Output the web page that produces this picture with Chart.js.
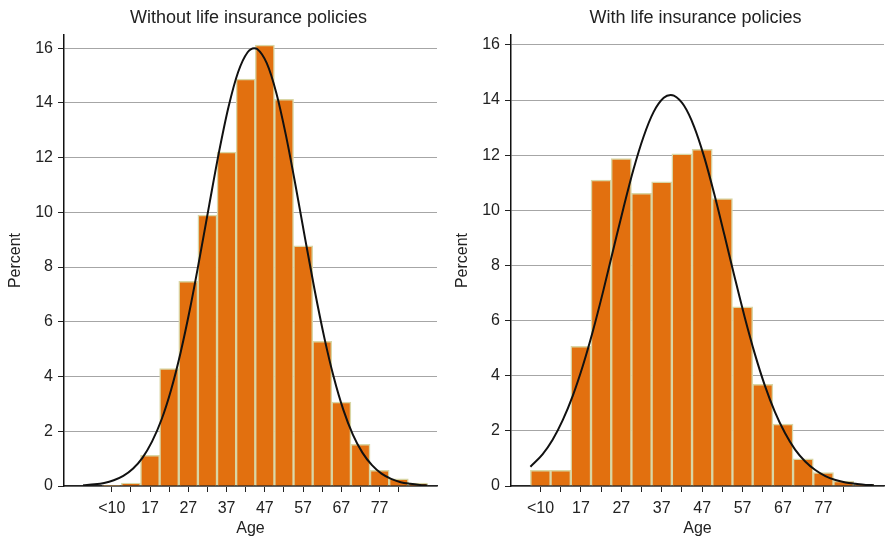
<!DOCTYPE html>
<html>
<head>
<meta charset="utf-8">
<script src="https://cdn.jsdelivr.net/npm/chart.js@4/dist/chart.umd.min.js"></script>
<style>
  body { margin: 0; background: #fff; }
  #wrap { position: relative; width: 885px; height: 542px; }
  canvas { position: absolute; top: 0; }
</style>
</head>
<body>
<div id="wrap">
  <canvas id="left" width="442" height="542" style="left:0"></canvas>
  <canvas id="right" width="438" height="542" style="left:447px"></canvas>
</div>
<script>
// age bins (centre of each 5-year bin)
var ageBins = [7, 12, 17, 22, 27, 32, 37, 42, 47, 52, 57, 62, 67, 72, 77, 82, 87];
var pctWithout = [0.02, 0.11, 1.12, 4.29, 7.48, 9.9, 12.2, 14.87, 16.11, 14.13, 8.78, 5.29, 3.07, 1.52, 0.57, 0.26, 0.11];
var pctWith = [0.57, 0.57, 5.07, 11.1, 11.88, 10.62, 11.03, 12.05, 12.21, 10.43, 6.5, 3.69, 2.25, 0.99, 0.49, 0.18, 0.06];

// normal curves
var curveAgesWithout = [-0.5, 2.5, 5, 7.5, 10, 12.5, 15, 17.5, 20, 22.5, 25, 27.5, 30, 32.5, 35, 37.5, 40, 42.5, 44.2, 45, 47.5, 50, 52.5, 55, 57.5, 60, 62.5, 65, 67.5, 70, 72.5, 75, 77.5, 80, 82.5, 85, 87.5, 89.5];
var curveWithout = [0.03, 0.06, 0.11, 0.21, 0.37, 0.63, 1.03, 1.62, 2.43, 3.52, 4.89, 6.52, 8.37, 10.3, 12.19, 13.85, 15.12, 15.85, 16.0, 15.97, 15.45, 14.36, 12.82, 11.0, 9.06, 7.17, 5.45, 3.98, 2.79, 1.88, 1.22, 0.76, 0.45, 0.26, 0.14, 0.08, 0.04, 0.02];
var curveAgesWith = [4.5, 7.5, 10, 12.5, 15, 17.5, 20, 22.5, 25, 27.5, 30, 32.5, 35, 37.5, 39.2, 40, 42.5, 45, 47.5, 50, 52.5, 55, 57.5, 60, 62.5, 65, 67.5, 70, 72.5, 75, 77.5, 80, 82.5, 85, 87.5, 89.5];
var curveWith = [0.7, 1.15, 1.68, 2.39, 3.28, 4.37, 5.64, 7.06, 8.57, 10.07, 11.48, 12.67, 13.57, 14.08, 14.18, 14.16, 13.8, 13.04, 11.94, 10.59, 9.11, 7.6, 6.14, 4.81, 3.65, 2.69, 1.92, 1.32, 0.89, 0.58, 0.36, 0.22, 0.13, 0.08, 0.04, 0.03];

var xTickValues = [7, 12, 17, 22, 27, 32, 37, 42, 47, 52, 57, 62, 67, 72, 77, 82];
var xTickLabels = ['<10', '', '17', '', '27', '', '37', '', '47', '', '57', '', '67', '', '77', ''];
var yTickValues = [0, 2, 4, 6, 8, 10, 12, 14, 16];

Chart.defaults.font.family = '"Liberation Sans", Arial, sans-serif';
Chart.defaults.color = '#222';

var panelTitle = {
  id: 'panelTitle',
  afterDraw: function(chart, args, opts) {
    var ctx = chart.ctx, a = chart.chartArea;
    ctx.save();
    ctx.font = '18px "Liberation Sans", Arial, sans-serif';
    ctx.fillStyle = '#222';
    ctx.textAlign = 'center';
    ctx.textBaseline = 'middle';
    ctx.fillText(opts.text, (a.left + a.right) / 2 - 2, 18);
    ctx.restore();
  }
};

function pairs(xs, ys) {
  return xs.map(function(x, i) { return {x: x, y: ys[i]}; });
}

function makeChart(id, title, bars, cx, cy, xmin, ymax, padRight) {
  new Chart(document.getElementById(id), {
    type: 'bar',
    plugins: [panelTitle],
    data: {
      datasets: [{
        type: 'line',
        data: pairs(cx, cy),
        borderColor: '#111',
        borderWidth: 2,
        pointRadius: 0,
        cubicInterpolationMode: 'monotone',
        fill: false,
        order: 0
      }, {
        type: 'bar',
        data: pairs(ageBins, bars),
        backgroundColor: '#e2700f',
        borderColor: '#d9d6a5',
        borderWidth: 1.5,
        barPercentage: 1,
        categoryPercentage: 1,
        order: 1
      }]
    },
    options: {
      responsive: false,
      animation: false,
      layout: { padding: { top: 35, right: padRight, left: 0, bottom: 0 } },
      plugins: {
        legend: { display: false },
        tooltip: { enabled: false },
        panelTitle: { text: title }
      },
      scales: {
        x: {
          type: 'linear',
          min: xmin,
          max: 92,
          offset: false,
          afterBuildTicks: function(s) { s.ticks = xTickValues.map(function(v) { return {value: v}; }); },
          afterFit: function(s) { s.height = 56; },
          ticks: {
            autoSkip: false,
            maxRotation: 0,
            padding: 7,
            font: { size: 16 },
            callback: function(v) { return xTickLabels[xTickValues.indexOf(v)]; }
          },
          grid: { drawOnChartArea: false, offset: false, tickLength: 6, tickColor: '#222', tickWidth: 1 },
          border: { color: '#222', width: 1.5 },
          title: { display: true, text: 'Age', font: { size: 16 }, padding: { top: 0, bottom: 4 } }
        },
        y: {
          min: 0,
          max: ymax,
          afterBuildTicks: function(s) { s.ticks = yTickValues.map(function(v) { return {value: v}; }); },
          afterFit: function(s) { s.width = 64; },
          ticks: { padding: 5, font: { size: 16 } },
          grid: { color: '#a6a6a6', lineWidth: 1, tickLength: 6, tickColor: '#222' },
          border: { color: '#111', width: 1.5 },
          title: { display: true, text: 'Percent', font: { size: 16 }, padding: { top: 6, bottom: 0 } }
        }
      }
    }
  });
}

makeChart('left', 'Without life insurance policies', pctWithout, curveAgesWithout, curveWithout, -5.5, 16.48, 5);
makeChart('right', 'With life insurance policies', pctWith, curveAgesWith, curveWith, -0.3, 16.36, 1);
</script>
</body>
</html>
